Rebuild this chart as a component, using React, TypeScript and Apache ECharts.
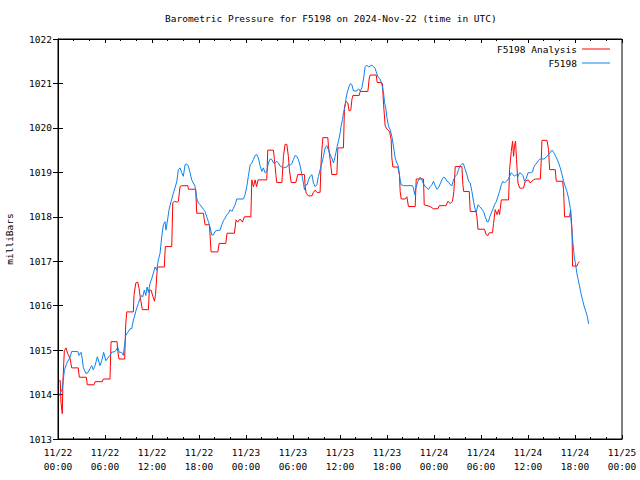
import React, { useEffect, useRef } from "react";
import * as echarts from "echarts";

const titleText = "Barometric Pressure for F5198 on 2024-Nov-22 (time in UTC)";
const yAxisTitle = "milliBars";
const seriesNames = ["F5198 Analysis", "F5198"];
const xTickLabels = [
  "11/22\n00:00", "11/22\n06:00", "11/22\n12:00", "11/22\n18:00",
  "11/23\n00:00", "11/23\n06:00", "11/23\n12:00", "11/23\n18:00",
  "11/24\n00:00", "11/24\n06:00", "11/24\n12:00", "11/24\n18:00",
  "11/25\n00:00",
];

// [hours since 11/22 00:00 UTC, millibars]
const analysisPoints: [number, number][] = [
  [0.13,1014.31],[0.29,1014.31],[0.38,1013.82],[0.55,1013.57],[0.63,1014.3],[0.81,1014.99],[1.02,1015.05],[1.24,1014.92],[1.53,1014.82],[1.75,1014.6],
  [2.59,1014.6],[2.72,1014.39],[3.62,1014.39],[3.74,1014.22],[4.59,1014.22],[4.73,1014.29],[5.66,1014.29],[5.78,1014.35],[6.64,1014.35],[6.77,1015.19],
  [7.54,1015.19],[7.63,1014.97],[7.79,1014.8],[8.51,1014.8],[8.65,1015.59],[8.78,1015.86],[9.62,1015.86],[9.70,1016.23],[9.93,1016.51],[10.18,1016.53],
  [10.35,1016.39],[10.51,1016.18],[10.77,1015.91],[11.54,1015.91],[11.66,1016.35],[11.88,1016.35],[12.13,1016.2],[12.32,1016.1],[12.45,1016.25],[12.69,1016.87],
  [13.57,1016.87],[13.70,1017.33],[14.52,1017.33],[14.65,1018.31],[14.85,1018.35],[15.17,1018.33],[15.37,1018.35],[15.58,1018.68],[15.80,1018.7],[16.57,1018.7],
  [16.65,1018.62],[17.58,1018.62],[17.71,1018.08],[18.56,1018.08],[18.77,1017.82],[19.33,1017.82],[19.54,1017.21],[20.40,1017.21],[20.57,1017.4],[21.42,1017.4],
  [21.58,1017.63],[22.52,1017.63],[22.73,1017.93],[22.95,1017.88],[23.25,1017.95],[23.54,1017.88],[23.80,1018.0],[24.62,1018.0],[24.74,1018.83],[24.95,1018.68],
  [25.16,1018.83],[25.35,1018.68],[25.54,1018.83],[26.65,1018.83],[26.78,1019.5],[27.50,1019.5],[27.63,1019.29],[27.81,1018.95],[27.93,1018.77],[28.58,1018.77],
  [28.78,1019.36],[28.99,1019.63],[29.21,1019.63],[29.41,1019.36],[29.54,1019.06],[29.77,1018.77],[30.36,1018.77],[30.61,1018.95],[31.46,1018.95],[31.55,1018.68],
  [31.68,1018.53],[31.97,1018.47],[32.41,1018.47],[32.61,1018.55],[32.83,1018.6],[33.04,1018.55],[33.46,1018.55],[33.60,1019.29],[33.81,1019.78],[34.45,1019.78],
  [34.52,1019.59],[34.74,1019.29],[34.96,1018.95],[35.60,1018.95],[35.73,1019.55],[36.44,1019.55],[36.57,1020.46],[36.75,1020.6],[37.00,1020.56],[37.17,1020.38],
  [37.38,1020.4],[37.52,1020.64],[37.65,1020.73],[38.45,1020.73],[38.57,1020.82],[39.56,1020.82],[39.72,1021.1],[39.85,1021.19],[40.62,1021.19],[40.75,1021.02],
  [41.25,1021.02],[41.42,1021.0],[41.56,1020.53],[41.77,1020.04],[42.06,1019.96],[42.32,1019.92],[42.53,1019.74],[42.62,1019.32],[42.75,1019.12],[43.39,1019.12],
  [43.59,1018.95],[43.68,1018.57],[43.81,1018.4],[44.33,1018.4],[44.54,1018.45],[44.74,1018.23],[45.60,1018.23],[45.73,1018.85],[46.66,1018.85],[46.75,1018.27],
  [47.52,1018.23],[47.93,1018.18],[48.50,1018.18],[48.67,1018.25],[49.53,1018.25],[49.78,1018.35],[50.07,1018.3],[50.36,1018.35],[50.54,1018.57],[50.71,1019.13],
  [51.56,1019.13],[51.69,1018.72],[51.79,1018.57],[52.50,1018.57],[52.62,1018.12],[53.36,1018.12],[53.48,1018.0],[53.61,1017.72],[54.45,1017.72],[54.63,1017.61],
  [54.84,1017.57],[55.05,1017.64],[55.47,1017.64],[55.60,1017.85],[55.81,1018.16],[56.04,1018.05],[56.24,1018.16],[56.37,1018.05],[56.59,1018.38],[57.52,1018.38],
  [57.65,1019.06],[57.86,1019.47],[58.03,1019.7],[58.16,1019.36],[58.28,1019.6],[58.41,1019.7],[58.53,1019.29],[58.72,1018.76],[58.93,1018.65],[59.14,1018.64],
  [59.43,1018.65],[59.65,1018.8],[60.04,1018.83],[60.29,1018.76],[60.48,1018.8],[60.71,1018.83],[60.92,1018.85],[61.57,1018.85],[61.70,1019.29],[61.78,1019.72],
  [62.42,1019.72],[62.63,1019.51],[62.76,1019.06],[63.48,1019.06],[63.61,1018.8],[64.42,1018.8],[64.54,1018.61],[64.67,1018.0],[65.31,1018.0],[65.44,1018.16],
  [65.62,1017.7],[65.69,1016.89],[66.25,1016.89],[66.38,1016.95],[66.55,1016.99],
];

const observedPoints: [number, number][] = [
  [0.13,1013.97],[0.55,1014.13],[0.81,1014.54],[1.11,1014.7],[1.53,1014.84],[1.75,1014.97],[2.52,1014.97],[2.68,1014.88],[2.94,1014.95],[3.10,1014.8],
  [3.23,1014.61],[3.54,1014.48],[3.74,1014.48],[4.09,1014.58],[4.30,1014.65],[4.50,1014.56],[4.73,1014.65],[5.02,1014.85],[5.24,1014.73],[5.36,1014.65],
  [5.58,1014.76],[5.83,1014.95],[6.10,1014.76],[6.35,1014.82],[6.64,1014.88],[6.86,1014.95],[7.29,1014.97],[7.63,1015.06],[7.83,1014.95],[8.13,1014.95],
  [8.34,1014.88],[8.46,1015.06],[8.65,1015.33],[8.91,1015.4],[9.20,1015.48],[9.41,1015.48],[9.62,1015.67],[9.74,1015.74],[9.97,1015.9],[10.26,1016.05],
  [10.47,1016.16],[10.69,1016.23],[10.82,1016.2],[11.02,1016.35],[11.21,1016.23],[11.37,1016.42],[11.54,1016.3],[11.75,1016.5],[11.97,1016.61],[12.22,1016.76],
  [12.39,1016.87],[12.61,1016.8],[12.81,1017.03],[13.03,1017.18],[13.24,1017.55],[13.45,1017.82],[13.66,1017.89],[13.79,1017.7],[14.02,1017.97],[14.18,1018.16],
  [14.43,1018.34],[14.73,1018.53],[14.94,1018.65],[15.17,1018.8],[15.37,1019.06],[15.58,1019.1],[15.80,1018.99],[16.00,1018.91],[16.22,1019.17],[16.43,1019.19],
  [16.65,1019.14],[16.86,1018.99],[17.07,1018.83],[17.28,1018.76],[17.50,1018.68],[17.71,1018.42],[17.92,1018.31],[18.14,1018.27],[18.35,1018.22],[18.56,1018.17],
  [18.77,1018.12],[18.99,1018.0],[19.20,1017.89],[19.42,1017.76],[19.63,1017.59],[19.84,1017.59],[20.05,1017.67],[20.27,1017.69],[20.69,1017.7],[20.91,1017.82],
  [21.11,1017.91],[21.33,1017.97],[21.54,1018.04],[21.76,1018.08],[21.97,1018.16],[22.19,1018.12],[22.39,1018.19],[22.61,1018.27],[22.82,1018.4],[23.67,1018.4],
  [23.88,1018.5],[24.10,1018.68],[24.30,1018.91],[24.53,1019.17],[24.74,1019.21],[24.95,1019.29],[25.16,1019.38],[25.38,1019.4],[25.58,1019.32],[25.81,1019.14],
  [26.02,1019.02],[26.22,1019.1],[26.44,1018.99],[26.65,1019.02],[26.86,1019.21],[27.08,1019.3],[27.30,1019.29],[27.51,1019.21],[27.72,1019.21],[27.94,1019.25],
  [28.14,1019.21],[28.36,1019.14],[28.58,1019.12],[28.78,1019.1],[29.21,1019.12],[29.41,1019.17],[29.64,1019.17],[29.85,1019.19],[30.06,1019.29],[30.27,1019.38],
  [30.48,1019.36],[30.69,1019.29],[30.92,1019.14],[31.13,1018.95],[31.33,1018.76],[31.46,1018.61],[31.64,1018.72],[31.80,1018.72],[31.97,1018.83],[32.18,1018.91],
  [32.41,1018.95],[32.61,1018.76],[32.83,1018.68],[33.04,1018.72],[33.25,1018.91],[33.46,1019.06],[33.69,1019.21],[33.89,1019.36],[34.10,1019.55],[34.32,1019.6],
  [34.52,1019.51],[34.74,1019.4],[34.96,1019.32],[35.17,1019.21],[35.38,1019.36],[35.60,1019.55],[35.80,1019.7],[36.02,1019.89],[36.14,1020.04],[36.32,1020.19],
  [36.44,1020.34],[36.66,1020.49],[36.75,1020.64],[36.91,1020.79],[37.17,1020.94],[37.33,1021.0],[37.52,1020.97],[37.72,1020.83],[38.15,1020.83],[38.36,1020.88],
  [38.57,1020.83],[38.79,1020.9],[39.00,1021.1],[39.21,1021.38],[39.43,1021.41],[39.64,1021.37],[39.85,1021.39],[40.07,1021.41],[40.28,1021.38],[40.49,1021.34],
  [40.71,1021.21],[40.91,1021.13],[41.13,1021.1],[41.34,1020.98],[41.56,1020.79],[41.69,1020.57],[41.86,1020.42],[41.99,1020.23],[42.19,1020.04],[42.40,1019.96],
  [42.62,1019.81],[42.75,1019.66],[42.92,1019.47],[43.05,1019.32],[43.26,1019.21],[43.43,1019.15],[43.55,1018.99],[43.68,1018.83],[43.81,1018.72],[44.11,1018.7],
  [45.25,1018.7],[45.38,1018.65],[45.52,1018.5],[45.69,1018.65],[45.95,1018.8],[46.24,1018.89],[46.45,1018.83],[46.66,1018.74],[46.88,1018.68],[47.10,1018.65],
  [47.30,1018.61],[47.52,1018.68],[47.73,1018.72],[47.93,1018.8],[48.16,1018.7],[48.37,1018.62],[48.58,1018.65],[48.79,1018.74],[49.01,1018.83],[49.21,1018.89],
  [49.44,1018.87],[49.65,1018.8],[49.86,1018.78],[50.07,1018.72],[50.29,1018.7],[50.49,1018.83],[50.71,1018.91],[50.93,1018.95],[51.13,1019.06],[51.34,1019.15],
  [51.56,1019.19],[51.76,1019.19],[51.99,1019.06],[52.20,1018.95],[52.41,1018.8],[52.62,1018.76],[52.84,1018.57],[53.04,1018.35],[53.26,1018.16],[53.39,1018.1],
  [53.61,1018.27],[53.90,1018.22],[54.11,1018.17],[54.32,1018.12],[54.54,1018.0],[54.76,1017.89],[54.96,1017.89],[55.09,1017.99],[55.31,1018.08],[55.52,1018.17],
  [55.73,1018.27],[55.95,1018.34],[56.17,1018.46],[56.37,1018.57],[56.59,1018.72],[56.80,1018.8],[57.00,1018.76],[57.22,1018.8],[57.44,1018.83],[57.65,1018.91],
  [57.86,1018.99],[58.08,1018.95],[58.28,1018.91],[58.50,1018.95],[58.72,1018.91],[58.93,1018.99],[59.14,1018.97],[59.35,1018.93],[59.56,1018.8],[59.77,1018.86],
  [60.00,1018.99],[60.29,1018.99],[60.58,1019.01],[60.71,1019.1],[60.92,1019.17],[61.14,1019.21],[61.35,1019.27],[61.57,1019.3],[61.99,1019.3],[62.20,1019.32],
  [62.42,1019.36],[62.63,1019.4],[62.85,1019.45],[63.06,1019.5],[63.27,1019.45],[63.48,1019.38],[63.70,1019.3],[63.91,1019.21],[64.12,1019.1],[64.34,1018.95],
  [64.54,1018.8],[64.76,1018.68],[64.97,1018.57],[65.18,1018.42],[65.40,1018.19],[65.53,1017.86],[65.62,1017.63],[65.74,1017.4],[65.91,1017.1],[66.12,1016.87],
  [66.25,1016.72],[66.38,1016.61],[66.55,1016.46],[66.77,1016.27],[66.98,1016.12],[67.19,1015.97],[67.40,1015.86],[67.57,1015.76],[67.74,1015.59],
];

const RED = "#ff0000";
const BLUE = "#0a82f0";

export default function App() {
  const ref = useRef<HTMLDivElement>(null);

  useEffect(() => {
    if (!ref.current) return;
    const chart = echarts.init(ref.current, null, { renderer: "svg" });
    const font = "'DejaVu Sans Mono', 'Liberation Mono', monospace";
    const textBase = { fontFamily: font, fontSize: 9.5, color: "#000" };
    const black = { color: "#000", width: 1 };

    const xCommon = {
      type: "value",
      min: 0,
      max: 72,
      interval: 6,
      splitLine: { show: false },
      axisLine: { show: true, lineStyle: black },
      axisTick: { show: true, inside: true, length: 4, lineStyle: black },
      minorTick: { show: true, splitNumber: 3, length: 2, lineStyle: black },
    };
    const yCommon = {
      type: "value",
      min: 1013,
      max: 1022,
      interval: 1,
      splitLine: { show: false },
      axisLine: { show: true, lineStyle: black },
      axisTick: { show: true, inside: true, length: 5, lineStyle: black },
    };

    const legendCommon = {
      orient: "vertical",
      align: "right",
      padding: 0,
      itemWidth: 28,
      itemHeight: 1,
      itemGap: 0,
      icon: "rect",
      selectedMode: false,
      textStyle: { ...textBase, lineHeight: 12 },
    };

    chart.setOption({
      animation: false,
      backgroundColor: "#fff",
      title: {
        text: titleText,
        left: 165,
        top: 13,
        padding: 0,
        textStyle: { ...textBase, fontWeight: "normal" },
      },
      legend: [
        { ...legendCommon, data: [seriesNames[0]], right: 30, top: 43 },
        { ...legendCommon, data: [seriesNames[1]], right: 30, top: 57 },
      ],
      grid: {
        left: 58,
        top: 39,
        width: 564,
        height: 400,
        containLabel: false,
        outerBoundsMode: "none",
        show: true,
        borderColor: "#000",
        borderWidth: 1,
        backgroundColor: "transparent",
      },
      xAxis: [
        {
          ...xCommon,
          position: "bottom",
          axisLabel: {
            ...textBase,
            lineHeight: 14,
            margin: 6,
            showMinLabel: true,
            showMaxLabel: true,
            formatter: (v: number) => xTickLabels[Math.round(v / 6)] ?? "",
          },
        },
        {
          ...xCommon,
          position: "top",
          axisLabel: { show: false },
        },
      ],
      yAxis: [
        {
          ...yCommon,
          position: "left",
          name: yAxisTitle,
          nameLocation: "middle",
          nameGap: 44,
          nameRotate: 90,
          nameTextStyle: textBase,
          axisLabel: {
            ...textBase,
            margin: 6,
            showMinLabel: true,
            showMaxLabel: true,
            formatter: (v: number) => String(v),
          },
        },
        {
          ...yCommon,
          position: "right",
          axisLabel: { show: false },
        },
      ],
      series: [
        {
          name: seriesNames[0],
          type: "line",
          data: analysisPoints,
          xAxisIndex: 0,
          yAxisIndex: 0,
          symbol: "none",
          showSymbol: false,
          lineStyle: { color: RED, width: 1 },
          itemStyle: { color: RED },
        },
        {
          name: seriesNames[1],
          type: "line",
          data: observedPoints,
          xAxisIndex: 0,
          yAxisIndex: 0,
          symbol: "none",
          showSymbol: false,
          lineStyle: { color: BLUE, width: 1 },
          itemStyle: { color: BLUE },
        },
      ],
    });

    return () => chart.dispose();
  }, []);

  return (
    <div
      ref={ref}
      style={{ position: "absolute", left: 0, top: 0, width: 640, height: 480 }}
    />
  );
}
